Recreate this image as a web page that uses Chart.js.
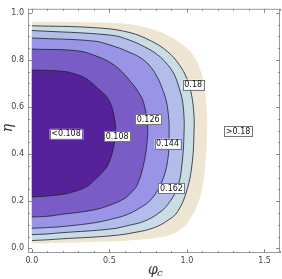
<!DOCTYPE html>
<html>
<head>
<meta charset="utf-8">
<script src="https://cdn.jsdelivr.net/npm/chart.js@4/dist/chart.umd.min.js"></script>
<style>
  body { margin: 0; background: #fff; }
  canvas { display: block; }
</style>
</head>
<body>
<canvas id="contourChart" width="282" height="279"></canvas>
<script>
// contour curves: eta values and matching phi_c values
const eta108 = [0.218, 0.222, 0.232, 0.247, 0.265, 0.288, 0.320, 0.354, 0.424, 0.500, 0.560, 0.610, 0.645, 0.670, 0.700, 0.724, 0.742, 0.752, 0.757];
const phi108 = [0, 0.10, 0.22, 0.30, 0.36, 0.40, 0.45, 0.49, 0.525, 0.54, 0.53, 0.51, 0.48, 0.44, 0.39, 0.34, 0.27, 0.19, 0];

const eta126 = [0.133, 0.136, 0.144, 0.163, 0.185, 0.211, 0.240, 0.270, 0.370, 0.477, 0.527, 0.620, 0.665, 0.705, 0.750, 0.787, 0.815, 0.838, 0.846];
const phi126 = [0, 0.10, 0.19, 0.40, 0.51, 0.596, 0.645, 0.68, 0.725, 0.746, 0.745, 0.72, 0.685, 0.64, 0.58, 0.51, 0.42, 0.30, 0];

const eta144 = [0.085, 0.088, 0.092, 0.108, 0.125, 0.144, 0.175, 0.205, 0.270, 0.370, 0.506, 0.568, 0.630, 0.680, 0.725, 0.767, 0.805, 0.835, 0.862, 0.880, 0.893];
const phi144 = [0, 0.10, 0.19, 0.40, 0.52, 0.617, 0.705, 0.765, 0.83, 0.875, 0.885, 0.88, 0.865, 0.84, 0.81, 0.77, 0.71, 0.62, 0.51, 0.40, 0];

const eta162 = [0.058, 0.061, 0.066, 0.082, 0.098, 0.115, 0.148, 0.185, 0.260, 0.370, 0.506, 0.568, 0.630, 0.680, 0.735, 0.780, 0.822, 0.856, 0.884, 0.905, 0.925];
const phi162 = [0, 0.10, 0.19, 0.51, 0.63, 0.725, 0.815, 0.875, 0.94, 0.97, 0.982, 0.98, 0.97, 0.95, 0.92, 0.875, 0.81, 0.725, 0.63, 0.51, 0];

const eta18 = [0.033, 0.036, 0.040, 0.053, 0.068, 0.088, 0.120, 0.156, 0.247, 0.370, 0.506, 0.568, 0.650, 0.720, 0.780, 0.835, 0.880, 0.918, 0.937, 0.945];
const phi18 = [0, 0.10, 0.19, 0.51, 0.67, 0.79, 0.88, 0.94, 1.00, 1.035, 1.046, 1.045, 1.03, 1.00, 0.95, 0.875, 0.77, 0.62, 0.40, 0];

const etaEdge = [0.019, 0.022, 0.025, 0.033, 0.053, 0.085, 0.123, 0.230, 0.370, 0.506, 0.568, 0.700, 0.760, 0.815, 0.860, 0.897, 0.927, 0.952, 0.960, 0.963];
const phiEdge = [0, 0.15, 0.30, 0.62, 0.875, 0.97, 1.02, 1.09, 1.12, 1.13, 1.13, 1.11, 1.085, 1.046, 0.98, 0.896, 0.79, 0.62, 0.35, 0];

const labelTexts = ['<0.108', '0.108', '0.126', '0.144', '0.162', '0.18', '>0.18'];
const labelPhi = [0.22, 0.55, 0.75, 0.875, 0.90, 1.04, 1.33];
const labelEta = [0.486, 0.477, 0.547, 0.444, 0.255, 0.695, 0.498];

const xTicks = [0, 0.5, 1.0, 1.5];
const yTicks = [0, 0.2, 0.4, 0.6, 0.8, 1.0];

function curve(etas, phis) {
    return etas.map((e, i) => ({ x: phis[i], y: e }));
}

function contour(etas, phis, color, border) {
    return {
        data: curve(etas, phis),
        backgroundColor: color,
        borderColor: border ? '#1e1e2a' : 'rgba(0,0,0,0)',
        borderWidth: border ? 0.8 : 0,
        fill: 'origin',
        pointRadius: 0,
        tension: 0.4
    };
}

// frame, inward ticks, contour labels and axis titles
const framePlugin = {
    id: 'frame',
    afterDatasetsDraw(chart) {
        const ctx = chart.ctx;
        const a = chart.chartArea;
        const xs = chart.scales.x;
        const ys = chart.scales.y;

        ctx.save();
        // labels
        ctx.font = '8px "DejaVu Sans", sans-serif';
        ctx.textAlign = 'center';
        ctx.textBaseline = 'middle';
        labelTexts.forEach((t, i) => {
            const px = xs.getPixelForValue(labelPhi[i]);
            const py = ys.getPixelForValue(labelEta[i]);
            const w = ctx.measureText(t).width + 3;
            const h = 10;
            ctx.fillStyle = '#fff';
            ctx.fillRect(px - w / 2, py - h / 2, w, h);
            ctx.strokeStyle = '#777';
            ctx.lineWidth = 1;
            ctx.strokeRect(Math.round(px - w / 2) + 0.5, Math.round(py - h / 2) + 0.5, Math.round(w), h);
            ctx.fillStyle = '#111';
            ctx.fillText(t, px, py + 0.5);
        });

        // frame
        ctx.strokeStyle = '#999';
        ctx.lineWidth = 1;
        ctx.strokeRect(a.left + 0.5, a.top + 0.5, a.right - a.left - 1, a.bottom - a.top - 1);

        // ticks (inward, all sides)
        ctx.strokeStyle = '#888';
        ctx.beginPath();
        for (let k = 0; k <= 16; k++) {
            const v = k / 10;
            const px = Math.round(xs.getPixelForValue(v)) + 0.5;
            const len = (k % 5 === 0) ? 4 : 2;
            ctx.moveTo(px, a.bottom);
            ctx.lineTo(px, a.bottom - len);
            ctx.moveTo(px, a.top);
            ctx.lineTo(px, a.top + len);
        }
        for (let k = 0; k <= 20; k++) {
            const v = k / 20;
            const py = Math.round(ys.getPixelForValue(v)) + 0.5;
            const len = (k % 4 === 0) ? 4 : 2;
            ctx.moveTo(a.left, py);
            ctx.lineTo(a.left + len, py);
            ctx.moveTo(a.right, py);
            ctx.lineTo(a.right - len, py);
        }
        ctx.stroke();

        // axis titles
        ctx.fillStyle = '#333';
        ctx.textAlign = 'left';
        ctx.textBaseline = 'alphabetic';
        ctx.font = 'italic 14px "DejaVu Serif", serif';
        ctx.fillText('\u03C6', 148, 274);
        ctx.font = 'italic 10px "DejaVu Serif", serif';
        ctx.fillText('c', 157, 276);

        ctx.translate(12, 128);
        ctx.rotate(-Math.PI / 2);
        ctx.textAlign = 'center';
        ctx.font = 'italic 14px "DejaVu Serif", serif';
        ctx.fillText('\u03B7', 0, 0);
        ctx.restore();
    }
};

const ctx = document.getElementById('contourChart').getContext('2d');
new Chart(ctx, {
    type: 'line',
    data: {
        datasets: [
            contour(eta108, phi108, '#56229a', true),
            contour(eta126, phi126, '#7a5cc6', true),
            contour(eta144, phi144, '#9a94e6', true),
            contour(eta162, phi162, '#b3bdea', true),
            contour(eta18, phi18, '#cbdde4', true),
            contour(etaEdge, phiEdge, '#efe5d3', false)
        ]
    },
    options: {
        responsive: false,
        animation: false,
        indexAxis: 'y',
        layout: { padding: { top: 1, right: 2, left: 0, bottom: 0 } },
        plugins: {
            legend: { display: false },
            tooltip: { enabled: false }
        },
        scales: {
            x: {
                type: 'linear',
                min: -0.025,
                max: 1.6,
                grid: { display: false, drawTicks: false },
                border: { display: false },
                afterBuildTicks: function(scale) {
                    scale.ticks = xTicks.map(v => ({ value: v }));
                },
                afterFit: function(scale) { scale.height = 26; },
                ticks: {
                    padding: 3,
                    color: '#444',
                    font: { size: 8, family: 'DejaVu Sans' },
                    maxRotation: 0,
                    callback: function(value) { return value.toFixed(1); }
                }
            },
            y: {
                type: 'linear',
                min: -0.02,
                max: 1.017,
                grid: { display: false, drawTicks: false },
                border: { display: false },
                afterBuildTicks: function(scale) {
                    scale.ticks = yTicks.map(v => ({ value: v }));
                },
                afterFit: function(scale) { scale.width = 28; },
                ticks: {
                    padding: 4,
                    color: '#444',
                    font: { size: 8, family: 'DejaVu Sans' },
                    callback: function(value) { return value.toFixed(1); }
                }
            }
        }
    },
    plugins: [framePlugin]
});
</script>
</body>
</html>
